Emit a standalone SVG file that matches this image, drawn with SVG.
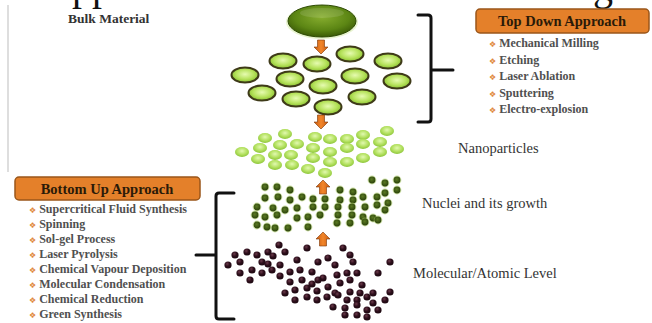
<svg xmlns="http://www.w3.org/2000/svg" width="652" height="323" viewBox="0 0 652 323">
<style>
.item{font-family:"Liberation Serif",serif;font-weight:bold;font-size:12px;fill:#505050}
.bul{fill:#e0873a;font-family:"DejaVu Sans",sans-serif;font-size:8px;font-weight:normal}
.hdr{font-family:"Liberation Serif",serif;font-weight:bold;font-size:14.5px;fill:#2a1a08;text-anchor:middle}
.lbl{font-family:"Liberation Serif",serif;font-size:14.5px;fill:#333}
.cap{font-family:"Liberation Serif",serif;font-size:40px;fill:#111}
.brace{fill:none;stroke:#111;stroke-width:3;stroke-linecap:round;stroke-linejoin:round}
.box{fill:#e4802a;stroke:#9a561a;stroke-width:1.5}
</style>
<defs>
  <radialGradient id="gBig" cx="50%" cy="38%" r="62%">
    <stop offset="0" stop-color="#86ad2e"/><stop offset="0.65" stop-color="#5c8614"/><stop offset="1" stop-color="#3a5a06"/>
  </radialGradient>
  <radialGradient id="gMed" cx="50%" cy="45%" r="55%">
    <stop offset="0" stop-color="#e6fbb0"/><stop offset="0.6" stop-color="#b6e25c"/><stop offset="1" stop-color="#88c02e"/>
  </radialGradient>
  <radialGradient id="gNp" cx="50%" cy="40%" r="60%">
    <stop offset="0" stop-color="#e2f9b0"/><stop offset="0.6" stop-color="#b2e05e"/><stop offset="1" stop-color="#8cc43a"/>
  </radialGradient>
  <radialGradient id="gNuc" cx="45%" cy="40%" r="60%">
    <stop offset="0" stop-color="#5a7a22"/><stop offset="1" stop-color="#2c420c"/>
  </radialGradient>
  <radialGradient id="gMol" cx="40%" cy="35%" r="65%">
    <stop offset="0" stop-color="#6a3a4a"/><stop offset="0.5" stop-color="#2e0f1c"/><stop offset="1" stop-color="#1c0810"/>
  </radialGradient>
  <linearGradient id="gArr" x1="0" y1="0" x2="1" y2="0">
    <stop offset="0" stop-color="#c85a10"/><stop offset="0.5" stop-color="#f2862a"/><stop offset="1" stop-color="#c85a10"/>
  </linearGradient>
  <ellipse id="med" rx="13.5" ry="7.5" fill="url(#gMed)" stroke="#3e3a18" stroke-width="2"/>
  <ellipse id="np" rx="7" ry="5" fill="url(#gNp)"/>
  <g id="nuc"><circle r="4.4" fill="#a6c85e" opacity="0.55"/><circle r="3.4" fill="url(#gNuc)"/></g>
  <circle id="mol" r="3.6" fill="url(#gMol)"/>
  <path id="arr" d="M-3.5,0H3.5V7H7L0,14L-7,7H-3.5Z" fill="url(#gArr)" stroke="#7a3606" stroke-width="0.6"/>
</defs>

<rect width="652" height="323" fill="#ffffff"/>

<!-- caption line above, only its descenders remain inside the frame -->
<text class="cap" x="72" y="-0.5">pp</text>
<text class="cap" x="593" y="-0.5">g</text>
<line x1="8" y1="5" x2="8" y2="172" stroke="#c8c8c8" stroke-width="1.2"/>

<!-- bulk material -->
<g id="bulk">
  <text x="68" y="23" font-family="Liberation Serif, serif" font-weight="bold" font-size="13.5" fill="#333">Bulk Material</text>
  <ellipse cx="322" cy="22" rx="36" ry="17" fill="#cfe8a0" opacity="0.5"/>
  <ellipse cx="322" cy="21" rx="34" ry="16" fill="url(#gBig)" stroke="#2e4a04" stroke-width="1"/>
  <ellipse cx="322" cy="13" rx="22" ry="5" fill="#ffffff" opacity="0.12"/>
</g>

<!-- fragments after milling -->
<g id="fragments">
  <use href="#med" x="283" y="61"/>
  <use href="#med" x="317" y="64"/>
  <use href="#med" x="350" y="54"/>
  <use href="#med" x="388" y="61"/>
  <use href="#med" x="245" y="75"/>
  <use href="#med" x="290" y="79"/>
  <use href="#med" x="355" y="76"/>
  <use href="#med" x="397" y="81"/>
  <use href="#med" x="323" y="86"/>
  <use href="#med" x="262" y="93"/>
  <use href="#med" x="296" y="99"/>
  <use href="#med" x="362" y="97"/>
  <use href="#med" x="328" y="107"/>
</g>

<!-- nanoparticles -->
<g id="nanoparticles">
  <use href="#np" x="265" y="138"/><use href="#np" x="285" y="134"/><use href="#np" x="315" y="137"/>
  <use href="#np" x="330" y="139"/><use href="#np" x="347" y="139"/><use href="#np" x="363" y="135"/>
  <use href="#np" x="387" y="131"/>
  <use href="#np" x="242" y="152"/><use href="#np" x="260" y="148"/><use href="#np" x="280" y="145"/>
  <use href="#np" x="297" y="144"/><use href="#np" x="313" y="148"/><use href="#np" x="330" y="152"/>
  <use href="#np" x="347" y="148"/><use href="#np" x="363" y="144"/><use href="#np" x="380" y="142"/>
  <use href="#np" x="397" y="149"/>
  <use href="#np" x="258" y="159"/><use href="#np" x="275" y="155"/><use href="#np" x="291" y="155"/>
  <use href="#np" x="313" y="158"/><use href="#np" x="330" y="162"/><use href="#np" x="347" y="162"/>
  <use href="#np" x="363" y="158"/><use href="#np" x="380" y="152"/>
  <use href="#np" x="275" y="165"/><use href="#np" x="292" y="165"/><use href="#np" x="308" y="169"/>
  <use href="#np" x="325" y="173"/>
  <text class="lbl" x="458" y="153" font-size="17.5">Nanoparticles</text>
</g>

<!-- nuclei -->
<g id="nuclei">
  <use href="#nuc" x="372" y="180"/><use href="#nuc" x="385" y="183"/><use href="#nuc" x="397" y="180"/>
  <use href="#nuc" x="265" y="187"/><use href="#nuc" x="277" y="187"/><use href="#nuc" x="290" y="190"/>
  <use href="#nuc" x="340" y="190"/><use href="#nuc" x="353" y="192"/><use href="#nuc" x="385" y="193"/>
  <use href="#nuc" x="397" y="190"/>
  <use href="#nuc" x="265" y="198"/><use href="#nuc" x="278" y="197"/><use href="#nuc" x="290" y="200"/>
  <use href="#nuc" x="302" y="197"/><use href="#nuc" x="313" y="199"/><use href="#nuc" x="325" y="199"/>
  <use href="#nuc" x="340" y="200"/><use href="#nuc" x="353" y="200"/><use href="#nuc" x="363" y="197"/>
  <use href="#nuc" x="377" y="197"/><use href="#nuc" x="388" y="203"/>
  <use href="#nuc" x="257" y="207"/><use href="#nuc" x="273" y="208"/><use href="#nuc" x="285" y="210"/>
  <use href="#nuc" x="297" y="208"/><use href="#nuc" x="313" y="207"/><use href="#nuc" x="325" y="207"/>
  <use href="#nuc" x="338" y="207"/><use href="#nuc" x="352" y="207"/><use href="#nuc" x="365" y="207"/>
  <use href="#nuc" x="377" y="205"/><use href="#nuc" x="385" y="210"/>
  <use href="#nuc" x="255" y="215"/><use href="#nuc" x="265" y="217"/><use href="#nuc" x="277" y="215"/>
  <use href="#nuc" x="297" y="218"/><use href="#nuc" x="308" y="217"/><use href="#nuc" x="320" y="215"/>
  <use href="#nuc" x="338" y="215"/><use href="#nuc" x="352" y="215"/><use href="#nuc" x="363" y="217"/>
  <use href="#nuc" x="373" y="218"/>
  <use href="#nuc" x="257" y="225"/><use href="#nuc" x="267" y="227"/><use href="#nuc" x="275" y="228"/>
  <use href="#nuc" x="288" y="228"/><use href="#nuc" x="308" y="227"/><use href="#nuc" x="337" y="223"/>
  <use href="#nuc" x="350" y="223"/><use href="#nuc" x="365" y="222"/><use href="#nuc" x="378" y="220"/>
  <text class="lbl" x="422" y="208">Nuclei and its growth</text>
</g>

<!-- molecules / atoms -->
<g id="molecules">
  <use href="#mol" x="279" y="245"/><use href="#mol" x="307" y="248"/><use href="#mol" x="343" y="248"/>
  <use href="#mol" x="235" y="255"/><use href="#mol" x="247" y="252"/><use href="#mol" x="257" y="255"/>
  <use href="#mol" x="268" y="252"/><use href="#mol" x="273" y="256"/><use href="#mol" x="285" y="252"/>
  <use href="#mol" x="350" y="255"/>
  <use href="#mol" x="228" y="265"/><use href="#mol" x="240" y="262"/><use href="#mol" x="262" y="262"/>
  <use href="#mol" x="268" y="264"/><use href="#mol" x="280" y="265"/><use href="#mol" x="297" y="260"/>
  <use href="#mol" x="318" y="262"/><use href="#mol" x="328" y="258"/><use href="#mol" x="335" y="265"/>
  <use href="#mol" x="353" y="262"/><use href="#mol" x="390" y="262"/>
  <use href="#mol" x="240" y="273"/><use href="#mol" x="252" y="270"/><use href="#mol" x="262" y="273"/>
  <use href="#mol" x="272" y="270"/><use href="#mol" x="280" y="276"/><use href="#mol" x="290" y="272"/>
  <use href="#mol" x="300" y="270"/><use href="#mol" x="312" y="272"/><use href="#mol" x="323" y="278"/>
  <use href="#mol" x="337" y="275"/><use href="#mol" x="347" y="273"/><use href="#mol" x="357" y="273"/>
  <use href="#mol" x="378" y="273"/>
  <use href="#mol" x="250" y="280"/><use href="#mol" x="290" y="282"/><use href="#mol" x="302" y="280"/>
  <use href="#mol" x="312" y="284"/><use href="#mol" x="318" y="280"/><use href="#mol" x="340" y="283"/>
  <use href="#mol" x="350" y="280"/><use href="#mol" x="362" y="285"/>
  <use href="#mol" x="285" y="293"/><use href="#mol" x="295" y="290"/><use href="#mol" x="307" y="288"/>
  <use href="#mol" x="317" y="291"/><use href="#mol" x="328" y="287"/><use href="#mol" x="335" y="293"/>
  <use href="#mol" x="350" y="292"/><use href="#mol" x="360" y="293"/><use href="#mol" x="373" y="293"/>
  <use href="#mol" x="390" y="292"/>
  <use href="#mol" x="295" y="300"/><use href="#mol" x="307" y="297"/><use href="#mol" x="317" y="300"/>
  <use href="#mol" x="327" y="297"/><use href="#mol" x="338" y="295"/><use href="#mol" x="347" y="300"/>
  <use href="#mol" x="357" y="300"/><use href="#mol" x="367" y="297"/><use href="#mol" x="373" y="303"/>
  <use href="#mol" x="385" y="300"/>
  <use href="#mol" x="333" y="307"/><use href="#mol" x="345" y="308"/><use href="#mol" x="357" y="305"/>
  <use href="#mol" x="367" y="310"/><use href="#mol" x="378" y="310"/>
  <use href="#mol" x="345" y="315"/><use href="#mol" x="357" y="315"/><use href="#mol" x="367" y="317"/>
  <text class="lbl" x="413" y="278">Molecular/Atomic Level</text>
</g>

<!-- top-down methods -->
<g id="topdown">
  <rect class="box" x="476" y="9" width="173" height="24" rx="4"/>
  <text class="hdr" x="562" y="26">Top Down Approach</text>
  <g font-size="12.5">
  <text class="item" x="489" y="47" font-size="12.5"><tspan class="bul">❖</tspan> Mechanical Milling</text>
  <text class="item" x="489" y="63.5" font-size="12.5"><tspan class="bul">❖</tspan> Etching</text>
  <text class="item" x="489" y="80" font-size="12.5"><tspan class="bul">❖</tspan> Laser Ablation</text>
  <text class="item" x="489" y="96.5" font-size="12.5"><tspan class="bul">❖</tspan> Sputtering</text>
  <text class="item" x="489" y="113" font-size="12.5"><tspan class="bul">❖</tspan> Electro-explosion</text>
  </g>
</g>

<!-- bottom-up methods -->
<g id="bottomup">
  <rect class="box" x="15" y="177" width="185" height="23" rx="4"/>
  <text class="hdr" x="107" y="194">Bottom Up Approach</text>
  <text class="item" x="29" y="212.5"><tspan class="bul">❖</tspan> Supercritical Fluid Synthesis</text>
  <text class="item" x="29" y="227.5"><tspan class="bul">❖</tspan> Spinning</text>
  <text class="item" x="29" y="242.5"><tspan class="bul">❖</tspan> Sol-gel Process</text>
  <text class="item" x="29" y="257.5"><tspan class="bul">❖</tspan> Laser Pyrolysis</text>
  <text class="item" x="29" y="272.5"><tspan class="bul">❖</tspan> Chemical Vapour Deposition</text>
  <text class="item" x="29" y="287.5"><tspan class="bul">❖</tspan> Molecular Condensation</text>
  <text class="item" x="29" y="302.5"><tspan class="bul">❖</tspan> Chemical Reduction</text>
  <text class="item" x="29" y="317.5"><tspan class="bul">❖</tspan> Green Synthesis</text>
</g>

<!-- arrows and braces -->
<g id="connectors">
  <use href="#arr" x="321" y="40"/>
  <use href="#arr" x="321" y="115"/>
  <use href="#arr" transform="translate(323,194) rotate(180)"/>
  <use href="#arr" transform="translate(323,246) rotate(180)"/>
  <path class="brace" d="M418,15H428Q431,15 431,18V119Q431,122 428,122H418M431,70H453"/>
  <path class="brace" d="M234,193H219Q216,193 216,196V316Q216,319 219,319H234M216,255H196"/>
</g>
</svg>
